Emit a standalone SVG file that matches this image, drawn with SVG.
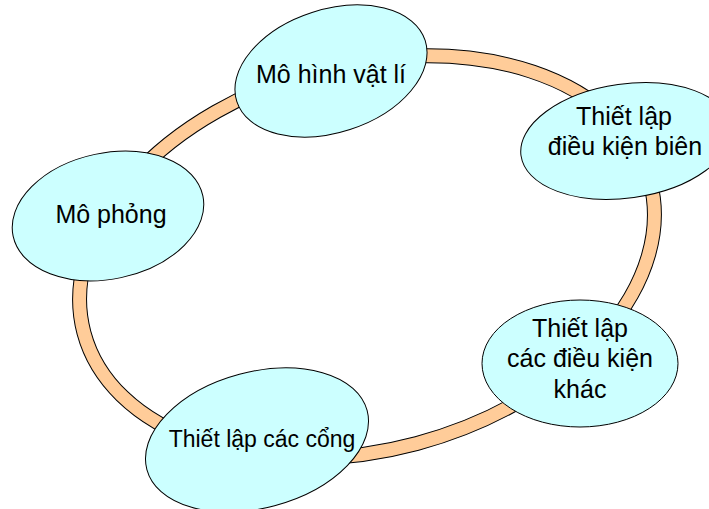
<svg xmlns="http://www.w3.org/2000/svg" width="709" height="509" viewBox="0 0 709 509">
<style>
.node{fill:#CCFFFF;stroke:#000;stroke-width:1}
.ring{fill:#FFCC99;stroke:#000;stroke-width:1;fill-rule:evenodd}
text{font-family:"Liberation Sans",Arial,sans-serif;font-size:25px;fill:#000;text-anchor:middle}
</style>
<rect width="709" height="509" fill="#fff"/>
<g id="connectors">
<path class="ring" transform="rotate(-15 367 257)" d="M67,257 a300,200 0 1,0 600,0 a300,200 0 1,0 -600,0 Z M81,257 a286,186 0 1,0 572,0 a286,186 0 1,0 -572,0 Z"/>
</g>
<g id="node-mo-hinh">
<ellipse class="node" cx="331" cy="71" rx="99" ry="61.5" transform="rotate(-18 331 71)"/>
<text x="331" y="83">Mô hình vật lí</text>
</g>
<g id="node-dieu-kien-bien">
<ellipse class="node" cx="626" cy="141" rx="106" ry="57" transform="rotate(-8 626 141)"/>
<text x="624" y="125">Thiết lập</text>
<text x="625" y="155">điều kiện biên</text>
</g>
<g id="node-mo-phong">
<ellipse class="node" cx="108" cy="216" rx="97" ry="63" transform="rotate(-12 108 216)"/>
<text x="111" y="223">Mô phỏng</text>
</g>
<g id="node-dieu-kien-khac">
<ellipse class="node" cx="580" cy="363.5" rx="98" ry="63.5"/>
<text x="580" y="337">Thiết lập</text>
<text x="580" y="367">các điều kiện</text>
<text x="580" y="398">khác</text>
</g>
<g id="node-cong">
<ellipse class="node" cx="257" cy="440" rx="114" ry="68" transform="rotate(-15 257 440)"/>
<text x="262" y="447" style="font-size:23px">Thiết lập các cổng</text>
</g>
</svg>
